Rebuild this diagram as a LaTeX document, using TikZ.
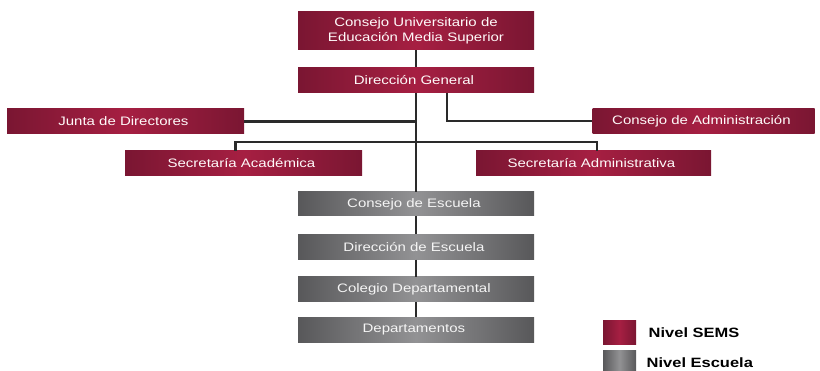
\documentclass[tikz,border=0pt]{standalone}
\usepackage{fontspec}
\setmainfont{Liberation Sans}[FakeStretch=1.22]
\usepackage{tikz}
\usetikzlibrary{
	positioning,
	calc
}
\definecolor{semsdark}{HTML}{7A1632}
\definecolor{semslight}{HTML}{A61F42}
\definecolor{escdark}{HTML}{58585A}
\definecolor{esclight}{HTML}{929294}
\definecolor{linkgray}{HTML}{2A2A2A}

\begin{document}
\begin{tikzpicture}[
				x=1pt, y=-1pt,
				sems/.style={
					rectangle,
					inner sep=0pt,
					minimum width=236pt,
					minimum height=25pt,
					left color=semsdark,
					right color=semsdark,
					middle color=semslight,
					text=white!92!pink,
					align=center,
					font=\fontsize{12.3}{15}\selectfont
				},
				escuela/.style={
					sems,
					left color=escdark,
					right color=escdark,
					middle color=esclight,
					text=white!92!gray
				},
				legend/.style={
					rectangle,
					inner sep=0pt,
					minimum width=33pt,
					minimum height=24pt
				},
				link/.style={
					draw=linkgray,
					line width=2.7pt
				}
				]
				\useasboundingbox (0,0) rectangle (820,371);
				
				% nivel SEMS
				\node[sems, minimum height=38pt] (consejo) at (416,31) {
					Consejo Universitario de\\
					Educación Media Superior
				};
				
				\node[sems, below=17pt of consejo] (direccion) {
					Dirección General
				};
				
				\node[sems, minimum width=237pt] (junta) at (125.5,121.5) {
					Junta de Directores
				};
				
				\node[sems, minimum width=222pt] (admin) at (703.5,121) {
					Consejo de Administración
				};
				
				\node[sems, minimum width=237pt] (academica) at (243.5,163.5) {
					Secretaría Académica
				};
				
				\node[sems, minimum width=235pt] (administrativa) at (593.5,163.5) {
					Secretaría Administrativa
				};
				
				% nivel escuela
				\node[escuela, minimum height=24pt] (cescuela) at (416,204) {
					Consejo de Escuela
				};
				
				\node[escuela, below=18pt of cescuela] (descuela) {
					Dirección de Escuela
				};
				
				\node[escuela, below=17pt of descuela] (colegio) {
					Colegio Departamental
				};
				
				\node[escuela, below=15pt of colegio] (departamentos) {
					Departamentos
				};
				
				% conectores
				\coordinate (split) at (416,142);
				
				\draw[link] (consejo) -- (direccion);
				\draw[link] (direccion) -- (cescuela);
				\draw[link] (junta.east) -- (junta.east -| direccion.south);
				\draw[link] ([xshift=31pt]direccion.south) |- (admin.west);
				\draw[link] (split) -| ([xshift=-8pt]academica.north);
				\draw[link] (split) -| ([xshift=3.5pt]administrativa.north);
				\draw[link] (cescuela) -- (descuela);
				\draw[link] (descuela) -- (colegio);
				\draw[link] (colegio) -- (departamentos);
				
				% leyenda
				\node[legend, left color=semsdark, right color=semsdark, middle color=semslight] (lsems) at (619.5,333) {};
				\node[legend, left color=escdark, right color=escdark, middle color=esclight] (lescuela) at (619.5,363) {};
				\node[right=9pt of lsems, font=\fontsize{13.5}{15}\selectfont\bfseries] (tsems) {Nivel SEMS};
				\node[right=7pt of lescuela, font=\fontsize{13.5}{15}\selectfont\bfseries] (tescuela) {Nivel Escuela};
				
			\end{tikzpicture}
\end{document}
